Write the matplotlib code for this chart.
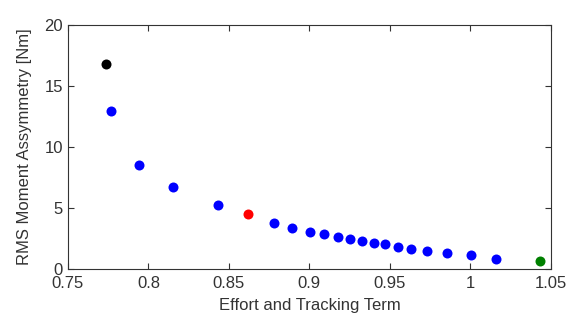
import numpy as np
import matplotlib
matplotlib.use('Agg')
from matplotlib import pyplot as plt

plt.rcParams['font.family'] = ['Liberation Sans', 'DejaVu Sans']

# pareto front points
effort_blue = [0.7769, 0.7939, 0.8154, 0.8434, 0.8777, 0.8889, 0.9003, 0.9092,
               0.9177, 0.9253, 0.9325, 0.9402, 0.9472, 0.9547, 0.9630, 0.9733,
               0.9853, 1.0004, 1.0160]
asym_blue = [12.95, 8.51, 6.73, 5.23, 3.72, 3.31, 3.04, 2.82,
             2.63, 2.41, 2.25, 2.14, 2.03, 1.81, 1.62, 1.45,
             1.31, 1.10, 0.82]
effort_black, asym_black = [0.7738], [16.78]
effort_red, asym_red = [0.8618], [4.46]
effort_green, asym_green = [1.0430], [0.63]

xticks = [0.75, 0.8, 0.85, 0.9, 0.95, 1.0, 1.05]
xticklabels = ['0.75', '0.8', '0.85', '0.9', '0.95', '1', '1.05']
yticks = [0, 5, 10, 15, 20]

fig = plt.figure(figsize=(5.8, 3.22), dpi=100)
ax = fig.add_axes([0.117, 0.1655, 0.833, 0.7565])

ms = 7.2
ax.plot(effort_black, asym_black, 'o', color='black', ms=ms, mec='none')
ax.plot(effort_blue, asym_blue, 'o', color='#0000ff', ms=ms, mec='none')
ax.plot(effort_red, asym_red, 'o', color='#ff0000', ms=ms, mec='none')
ax.plot(effort_green, asym_green, 'o', color='#008000', ms=ms, mec='none')

ax.set_xlim(0.75, 1.05)
ax.set_ylim(0, 20)
ax.set_xticks(xticks)
ax.set_xticklabels(xticklabels)
ax.set_yticks(yticks)
ax.tick_params(direction='in', top=True, right=True, labelsize=12, length=4,
               colors='#333333', labelcolor='#333333')
ax.tick_params(axis='x', pad=5)
for s in ax.spines.values():
    s.set_color('#333333')
ax.set_xlabel('Effort and Tracking Term', fontsize=12, color='#333333', labelpad=5)
ax.set_ylabel('RMS Moment Assymmetry [Nm]', fontsize=12, color='#333333', labelpad=9)

fig.savefig('out.png', dpi=100)
